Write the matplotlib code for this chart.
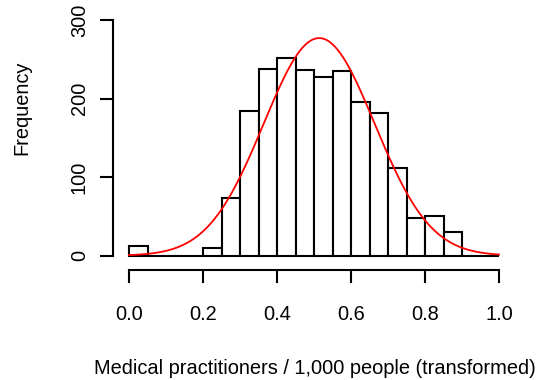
import matplotlib
matplotlib.use("Agg")
import matplotlib.pyplot as plt
import numpy as np

# histogram counts per 0.05 bin
bin_edges = np.round(np.arange(0.0, 1.0001, 0.05), 2)
counts = [12, 0, 0, 0, 10, 74, 184, 238, 251, 236,
          228, 235, 195, 181, 111, 48, 50, 30, 0, 0]

# fitted normal curve
fit_mean = 0.514
fit_sd = 0.15

x_ticks = [0.0, 0.2, 0.4, 0.6, 0.8, 1.0]
x_ticklabels = ["0.0", "0.2", "0.4", "0.6", "0.8", "1.0"]
y_ticks = [0, 100, 200, 300]

XLABEL = "Medical practitioners / 1,000 people (transformed)"
YLABEL = "Frequency"

W, H = 542, 380
DPI = 100
FONT = 14.4

plt.rcParams["font.family"] = ["Liberation Sans", "DejaVu Sans"]

fig = plt.figure(figsize=(W / DPI, H / DPI), dpi=DPI)
# plot region in pixels: x 0..1 -> 129..499, y 0..300 -> 255.7..20
left, right, top, bottom = 129, 499, 20, 255.7
ax = fig.add_axes([left / W, 1 - bottom / H, (right - left) / W, (bottom - top) / H])
ax.set_xlim(0, 1)
ax.set_ylim(0, 300)

widths = np.diff(bin_edges)
ax.bar(bin_edges[:-1], counts, width=widths, align="edge",
       facecolor="white", edgecolor="black", linewidth=1.5, clip_on=False)

n_total = sum(counts)
bw = widths[0]
xs = np.linspace(0, 1, 400)
dens = n_total * bw * np.exp(-0.5 * ((xs - fit_mean) / fit_sd) ** 2) / (fit_sd * np.sqrt(2 * np.pi))
ax.plot(xs, dens, color="red", linewidth=1.3, clip_on=False)

for s in ("top", "right"):
    ax.spines[s].set_visible(False)
ax.spines["bottom"].set_position(("outward", 13.8 * 72 / DPI))
ax.spines["left"].set_position(("outward", 15.7 * 72 / DPI))
ax.spines["bottom"].set_bounds(0, 1)
ax.spines["left"].set_bounds(0, 300)
for s in ("bottom", "left"):
    ax.spines[s].set_linewidth(1.5)

ax.set_xticks(x_ticks)
ax.set_xticklabels(x_ticklabels)
ax.set_yticks(y_ticks)
ax.set_yticklabels([str(v) for v in y_ticks], rotation=90, va="center")
ax.tick_params(axis="both", length=9.5, width=1.5, labelsize=FONT)
ax.tick_params(axis="x", pad=16)
ax.tick_params(axis="y", pad=8)

fig.text(314.5 / W, 1 - 368.6 / H, XLABEL, ha="center", va="center", fontsize=FONT)
fig.text(21.7 / W, 1 - 107.5 / H, YLABEL, ha="center", va="center",
         rotation=90, fontsize=FONT)

fig.savefig("out.png", dpi=DPI)
